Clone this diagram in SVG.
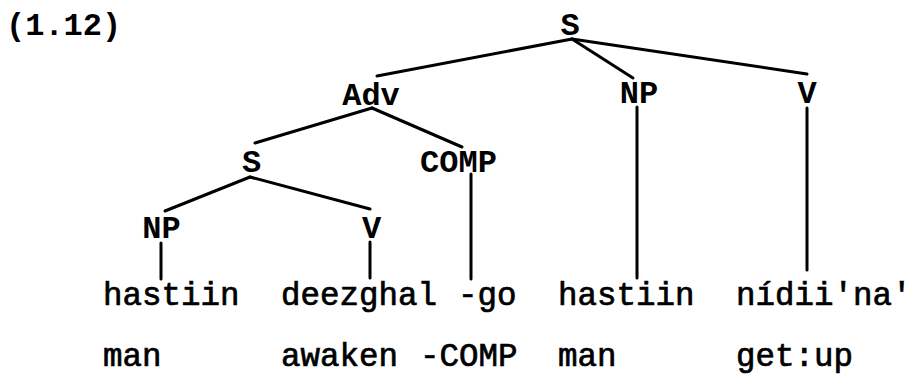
<svg xmlns="http://www.w3.org/2000/svg" width="914" height="377" viewBox="0 0 914 377">
<style>
.lbl{font-family:"Liberation Mono","DejaVu Sans Mono",monospace;font-size:32px;font-weight:bold;fill:#000;text-anchor:middle}
.w{font-family:"Liberation Mono","DejaVu Sans Mono",monospace;font-size:32.5px;fill:#000;stroke:#000;stroke-width:0.7}
.t{font-family:"Liberation Mono","DejaVu Sans Mono",monospace;font-size:32px;font-weight:bold;fill:#000}
#connectors line{stroke:#000;stroke-width:3;stroke-linecap:round}
</style>
<rect width="914" height="377" fill="#fff"/>
<text class="t" x="6" y="35">(1.12)</text>
<g id="connectors">
<line x1="572" y1="39" x2="377" y2="76"/>
<line x1="572" y1="39" x2="633" y2="78"/>
<line x1="572" y1="39" x2="807" y2="74"/>
<line x1="372" y1="108" x2="255" y2="143"/>
<line x1="372" y1="108" x2="462" y2="147"/>
<line x1="250" y1="177" x2="165" y2="211"/>
<line x1="250" y1="177" x2="370" y2="209"/>
<line x1="161" y1="243" x2="161" y2="279"/>
<line x1="370" y1="242" x2="370" y2="278"/>
<line x1="471" y1="174" x2="471" y2="279"/>
<line x1="637" y1="107" x2="637" y2="278"/>
<line x1="807" y1="108" x2="807" y2="270"/>
</g>
<g id="n-S-top"><text class="lbl" x="570" y="35">S</text></g>
<g id="n-Adv"><text class="lbl" x="371" y="105">Adv</text></g>
<g id="n-NP-right"><text class="lbl" x="639" y="103">NP</text></g>
<g id="n-V-right"><text class="lbl" x="807" y="103">V</text></g>
<g id="n-S-mid"><text class="lbl" x="251.5" y="172">S</text></g>
<g id="n-COMP"><text class="lbl" x="458.5" y="172">COMP</text></g>
<g id="n-NP-low"><text class="lbl" x="161.5" y="238">NP</text></g>
<g id="n-V-low"><text class="lbl" x="371.5" y="238">V</text></g>
<g id="w-hastiin1"><text class="w" x="103" y="305">hastiin</text><text class="w" x="103" y="366">man</text></g>
<g id="w-deezghal"><text class="w" x="281" y="305">deezghal</text><text class="w" x="281" y="366">awaken</text></g>
<g id="w-go"><text class="w" x="458" y="305">-go</text><text class="w" x="420" y="366">-COMP</text></g>
<g id="w-hastiin2"><text class="w" x="558" y="305">hastiin</text><text class="w" x="558" y="366">man</text></g>
<g id="w-nidiina"><text class="w" x="736" y="305">nídii'na'</text><text class="w" x="736" y="366">get:up</text></g>
</svg>
